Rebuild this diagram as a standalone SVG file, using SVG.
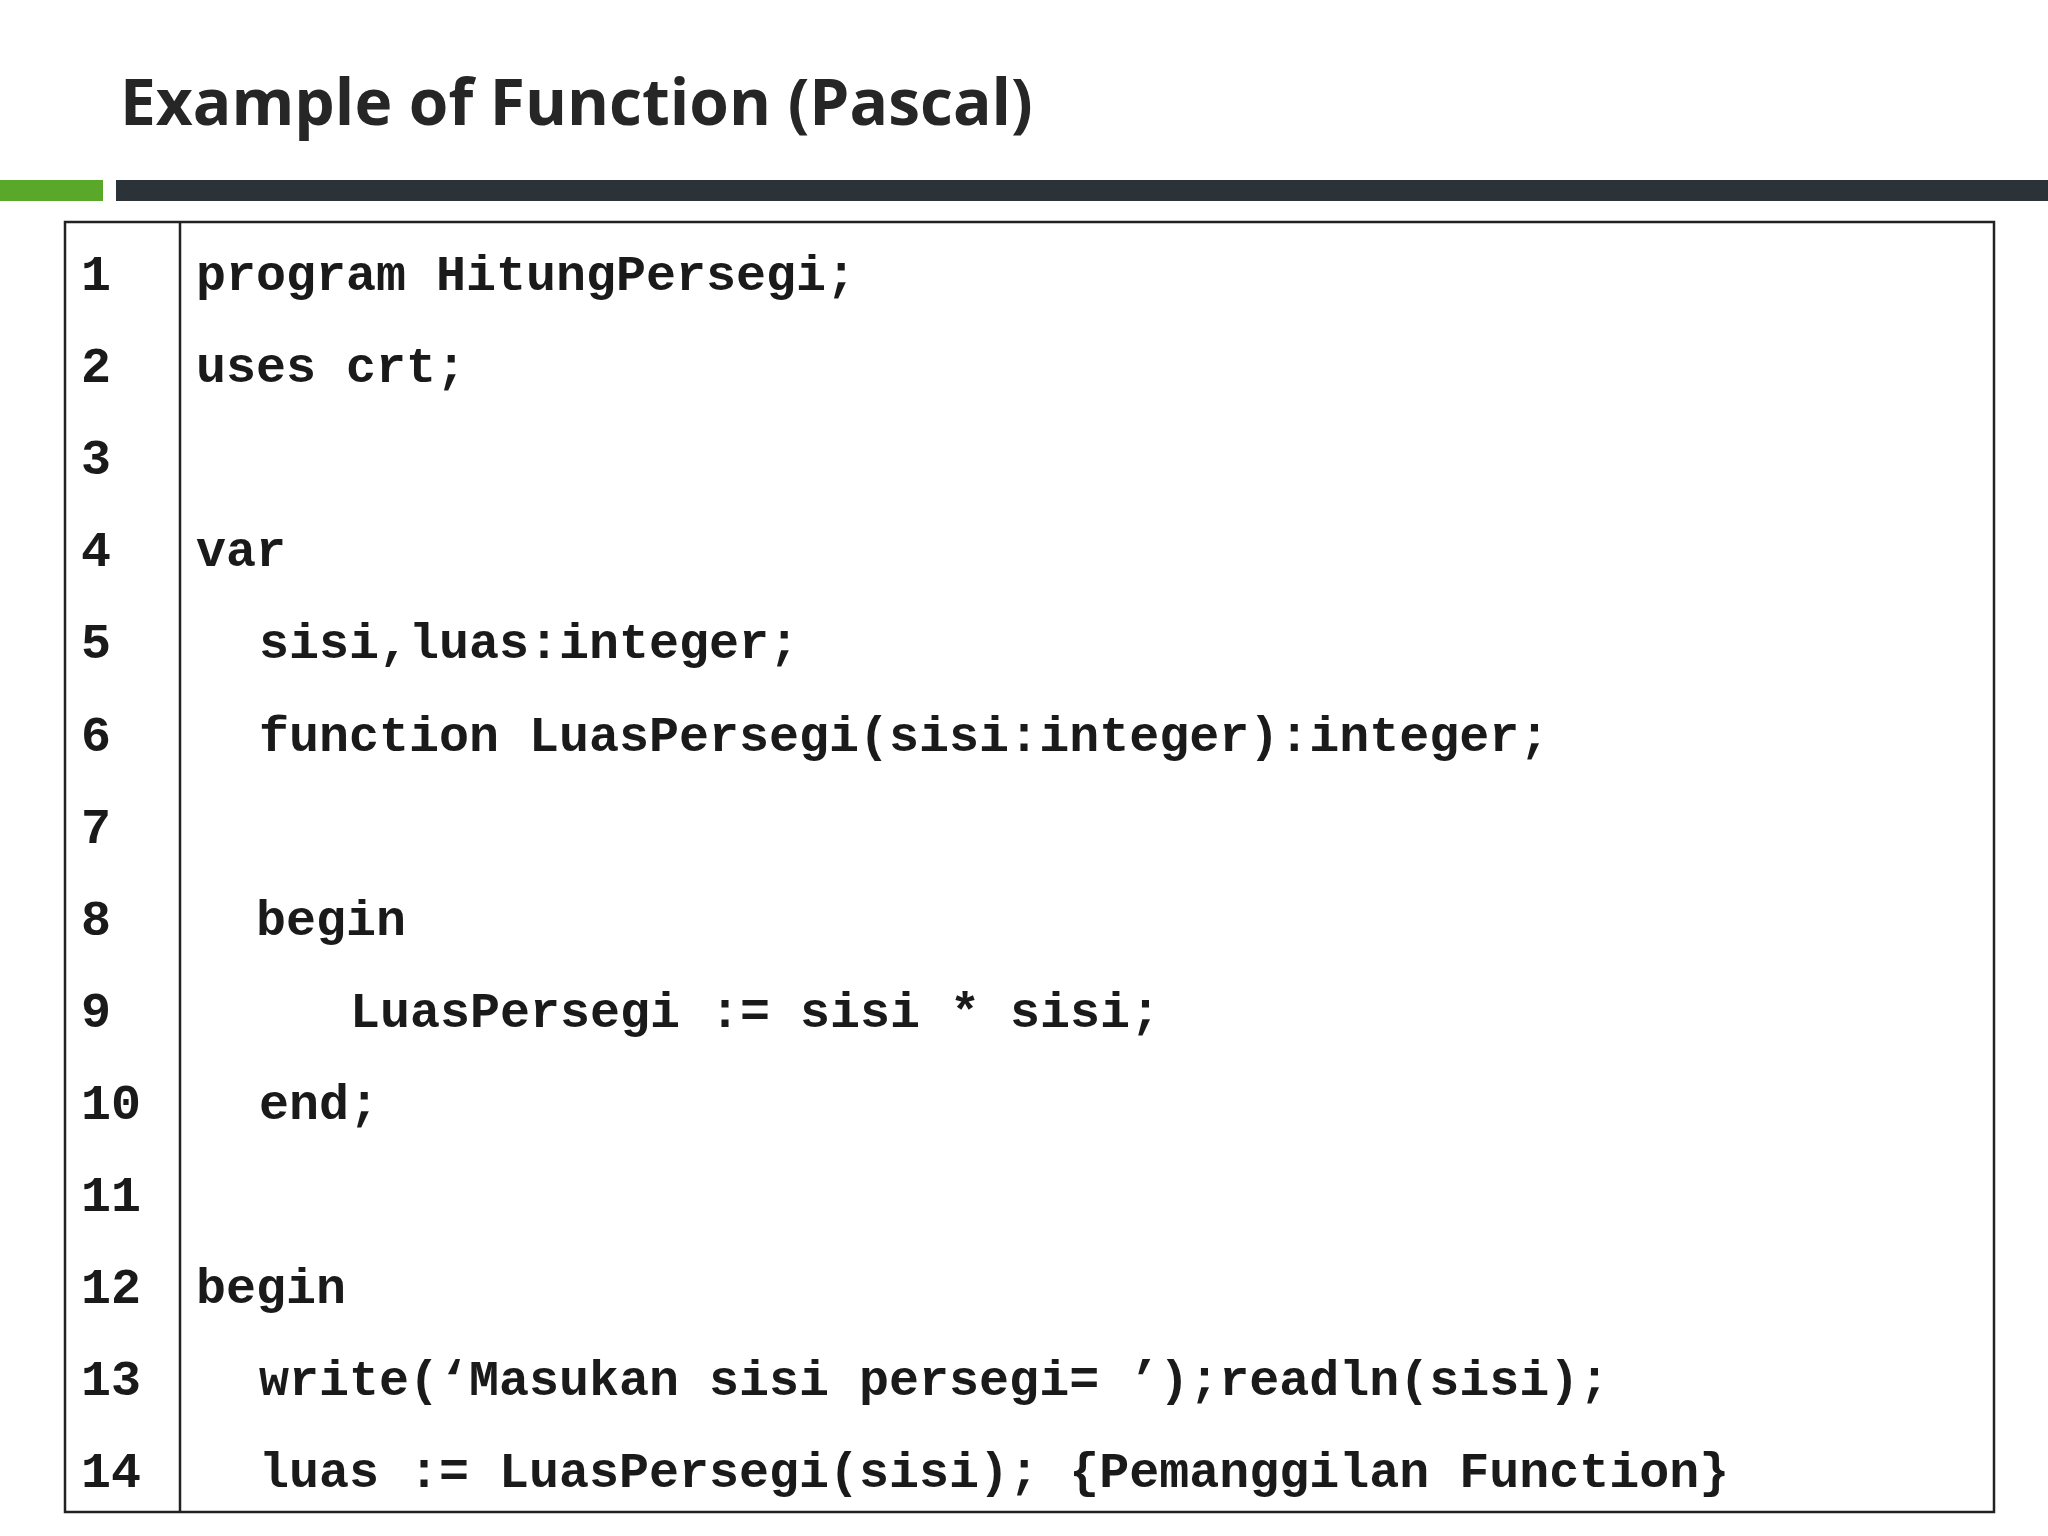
<svg xmlns="http://www.w3.org/2000/svg" width="2048" height="1536" viewBox="0 0 2048 1536">
<style>
.c{font-family:"Liberation Mono","Courier New",monospace;font-weight:bold;font-size:50px;fill:#1a1a1a;white-space:pre}
</style>
<rect width="2048" height="1536" fill="#fff"/>
<text x="120" y="125" font-family="'Open Sans','Noto Sans',sans-serif" font-weight="bold" font-size="64" fill="#262626">Example of Function (Pascal)</text>
<rect x="0" y="180" width="103" height="21" fill="#5aa82a"/>
<rect x="116" y="180" width="1932" height="21" fill="#2b3238"/>
<g id="table" fill="none" stroke="#222" stroke-width="2.5">
<rect x="65" y="222" width="1929" height="1290"/>
<line x1="180" y1="222" x2="180" y2="1512"/>
</g>
<g id="nums" class="c">
<text class="c" x="81" y="290">1</text>
<text class="c" x="81" y="382">2</text>
<text class="c" x="81" y="474">3</text>
<text class="c" x="81" y="566">4</text>
<text class="c" x="81" y="658">5</text>
<text class="c" x="81" y="751">6</text>
<text class="c" x="81" y="843">7</text>
<text class="c" x="81" y="935">8</text>
<text class="c" x="81" y="1027">9</text>
<text class="c" x="81" y="1119">10</text>
<text class="c" x="81" y="1211">11</text>
<text class="c" x="81" y="1303">12</text>
<text class="c" x="81" y="1395">13</text>
<text class="c" x="81" y="1487">14</text>
</g>
<g id="code">
<text class="c" x="196" y="290">program HitungPersegi;</text>
<text class="c" x="196" y="382">uses crt;</text>
<text class="c" x="196" y="566">var</text>
<text class="c" x="259" y="658">sisi,luas:integer;</text>
<text class="c" x="259" y="751">function LuasPersegi(sisi:integer):integer;</text>
<text class="c" x="256" y="935">begin</text>
<text class="c" x="350" y="1027">LuasPersegi := sisi * sisi;</text>
<text class="c" x="259" y="1119">end;</text>
<text class="c" x="196" y="1303">begin</text>
<text class="c" x="259" y="1395">write(‘Masukan sisi persegi= ’);readln(sisi);</text>
<text class="c" x="259" y="1487">luas := LuasPersegi(sisi); {Pemanggilan Function}</text>
</g>
</svg>
